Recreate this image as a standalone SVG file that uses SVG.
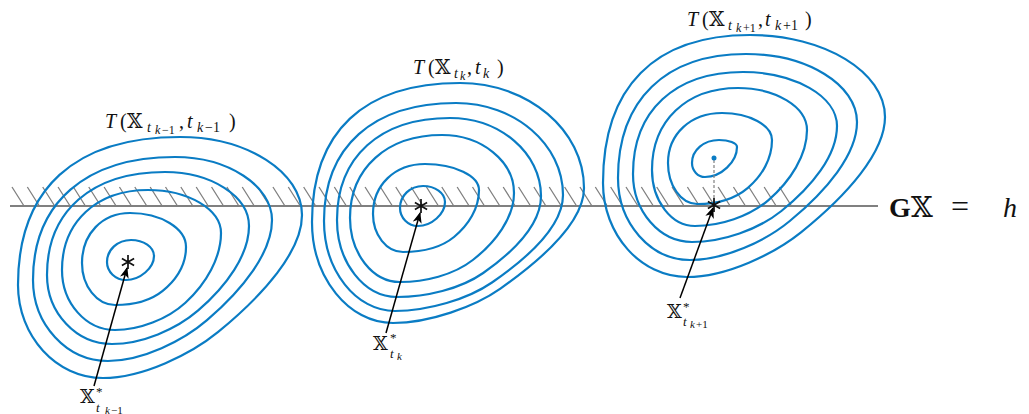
<svg xmlns="http://www.w3.org/2000/svg" width="1029" height="414" viewBox="0 0 1029 414">
<style>
.c{fill:none;stroke:#0a7cc4;stroke-width:2.2}
.m{font-family:'Liberation Serif','DejaVu Serif','DejaVu Sans',serif;fill:#111}
.bb{font-family:'DejaVu Serif','DejaVu Sans',serif}
.i{font-style:italic}
.st{fill:none;stroke:#111;stroke-width:1.7}
.ar{fill:none;stroke:#000;stroke-width:1.5}
</style>
<defs>
<marker id="ah" markerWidth="12" markerHeight="10" refX="10" refY="4.5" orient="auto" markerUnits="userSpaceOnUse"><path d="M0,0 L11,4.5 L0,9 L3,4.5 z" fill="#000"/></marker>
</defs>
<rect width="1029" height="414" fill="#fff"/>
<g id="constraint">
<path d="M12 187l12 19m3.35-19l12 19m3.35-19l12 19m3.35-19l12 19m3.35-19l12 19m3.35-19l12 19m3.35-19l12 19m3.35-19l12 19m3.35-19l12 19m3.35-19l12 19m3.35-19l12 19m3.35-19l12 19m3.35-19l12 19m3.35-19l12 19m3.35-19l12 19m3.35-19l12 19m3.35-19l12 19m3.35-19l12 19m3.35-19l12 19m3.35-19l12 19m3.35-19l12 19m3.35-19l12 19m3.35-19l12 19m3.35-19l12 19m3.35-19l12 19m3.35-19l12 19m3.35-19l12 19m3.35-19l12 19m3.35-19l12 19m3.35-19l12 19m3.35-19l12 19m3.35-19l12 19m3.35-19l12 19m3.35-19l12 19m3.35-19l12 19m3.35-19l12 19m3.35-19l12 19m3.35-19l12 19m3.35-19l12 19m3.35-19l12 19m3.35-19l12 19m3.35-19l12 19m3.35-19l12 19m3.35-19l12 19m3.35-19l12 19m3.35-19l12 19m3.35-19l12 19m3.35-19l12 19m3.35-19l12 19m3.35-19l12 19m3.35-19l12 19" fill="none" stroke="#808080" stroke-width="1.3"/>
<line x1="10" y1="206" x2="878" y2="206" stroke="#808080" stroke-width="2"/>
<text class="m" y="217" font-size="28"><tspan x="889" font-weight="bold">G</tspan><tspan x="911" class="bb">𝕏</tspan><tspan x="951" font-size="32">=</tspan><tspan x="1003" class="i">h</tspan></text>
</g>
<g id="cluster1">
<path class="c" d="M107 262C107 249.7 117.6 240 131 240C143.7 240 154 247.2 154 256C154 268 140 280 126 280C115.5 280 107 271.9 107 262Z"/>
<path class="c" d="M82 263C82 234 102.2 213 130 213C160.8 213 186 228.3 186 247C186 264.4 176.2 279.9 162.7 290.9C149.9 301.3 131.5 305 115 305C96.9 305 82 286.1 82 263Z"/>
<path class="c" d="M62 270C62 222 96.4 190 148 190C188.2 190 221 209.4 221 233C221 257.4 206.6 283.3 185.4 302.7C167.4 319.2 139.4 330 115 330C85.9 330 62 303 62 270Z"/>
<path class="c" d="M47 275C47 211.1 91.8 172 165 172C211.2 172 249 196.3 249 226C249 254.9 226.7 285.9 197.9 310.7C176 329.6 141.8 344 112 344C76.3 344 47 313 47 275Z"/>
<path class="c" d="M33 280C33 203.1 85.5 157 175 157C228.4 157 272 185.9 272 220C272 252.4 243.1 289.2 207 320.2C183.2 340.7 142.6 361 108 361C66.8 361 33 324.6 33 280Z"/>
<path class="c" d="M18 285C18 188.8 74.7 137 180 137C247.1 137 302 172.1 302 215C302 251 264 294.4 218.2 331.9C191.3 353.9 142.9 378 103 378C56.3 378 18 336.2 18 285Z"/>
<path class="st" d="M128 255v14M121.9 258.5l12.2 7M134.1 258.5l-12.2 7"/>
<text class="m" y="128" font-size="20"><tspan x="105" class="i">T</tspan><tspan x="120">(</tspan><tspan x="127" class="bb">𝕏</tspan><tspan x="147" y="132" font-size="14" class="i">t</tspan><tspan x="155" y="134" font-size="12" class="i">k</tspan><tspan x="162" font-size="12">−1</tspan><tspan x="179" y="128">,</tspan><tspan x="187" class="i">t</tspan><tspan x="197" y="132" font-size="14" class="i">k</tspan><tspan x="205" font-size="14">−1</tspan><tspan x="229" y="128">)</tspan></text>
<text class="m" y="403" font-size="19"><tspan x="80" class="bb">𝕏</tspan><tspan x="96" y="396" font-size="13">*</tspan><tspan x="96" y="412" font-size="13" class="i">t</tspan><tspan x="105" y="414" font-size="11" class="i">k</tspan><tspan x="111" font-size="11">−1</tspan></text>
</g>
<g id="cluster2">
<path class="c" d="M400 208C400 195.7 410.1 186 423 186C435.1 186 445 193.2 445 202C445 214 431.5 226 418 226C408.1 226 400 217.9 400 208Z"/>
<path class="c" d="M373 214C373 185 394.8 164 425 164C454.7 164 479 175.7 479 190C479 208.6 468.4 225.2 454 237C440.3 248.2 420.7 252 403 252C386.5 252 373 234.9 373 214Z"/>
<path class="c" d="M350 218C350 168.2 386.8 135 442 135C481.6 135 514 161.1 514 193C514 217.6 495.6 242.2 472.8 260C453.4 275.2 424.6 282 400 282C372.5 282 350 253.2 350 218Z"/>
<path class="c" d="M337 220C337 156.8 380 118 450 118C500 118 541 153.1 541 196C541 224.1 513.4 251.8 483.2 273C460.2 289.1 426 297 397 297C364 297 337 262.4 337 220Z"/>
<path class="c" d="M324 221C324 146.7 372.8 103 456 103C514.9 103 563 144.4 563 195C563 225.6 529 257 492 282.5C467.6 299.3 427.7 311 395 311C356 311 324 270.5 324 221Z"/>
<path class="c" d="M312 222C312 131.7 363.8 83 460 83C528.2 83 584 130.3 584 188C584 220.7 544.4 257.6 500.4 288.6C474.6 306.8 429.3 323 393 323C348.5 323 312 277.6 312 222Z"/>
<path class="st" d="M421 199v14M414.9 202.5l12.2 7M427.1 202.5l-12.2 7"/>
<text class="m" y="74" font-size="20"><tspan x="413" class="i">T</tspan><tspan x="428">(</tspan><tspan x="435" class="bb">𝕏</tspan><tspan x="454" y="78" font-size="14" class="i">t</tspan><tspan x="460" y="80" font-size="12" class="i">k</tspan><tspan x="467" y="74">,</tspan><tspan x="475" class="i">t</tspan><tspan x="483" y="78" font-size="14" class="i">k</tspan><tspan x="497" y="74">)</tspan></text>
<text class="m" y="350" font-size="19"><tspan x="373" class="bb">𝕏</tspan><tspan x="390" y="342" font-size="13">*</tspan><tspan x="390" y="358" font-size="13" class="i">t</tspan><tspan x="397" y="360" font-size="11" class="i">k</tspan></text>
</g>
<g id="cluster3">
<path class="c" d="M692 163C692 150.1 703.9 140 719 140C728.9 140 737 143.2 737 147C737 162 721 177 705 177C697.9 177 692 170.7 692 163Z"/>
<path class="c" d="M668 163C668 134 690.7 113 722 113C749.5 113 772 125.2 772 140C772 158.7 762.1 175.7 747.9 187.8C734.4 199.3 714.7 204 697 204C681 204 668 185.6 668 163Z"/>
<path class="c" d="M652 170C652 120.8 686.4 88 738 88C776 88 807 106.9 807 130C807 155.1 790.6 181.1 768.2 200.3C749.1 216.6 720.1 226 695 226C671.4 226 652 200.8 652 170Z"/>
<path class="c" d="M633 174C633 110.8 674.8 72 743 72C794.7 72 837 96.3 837 126C837 155.7 811.9 186.6 781.4 211C758.2 229.6 722.6 242 692 242C659.6 242 633 211.4 633 174Z"/>
<path class="c" d="M618 178C618 99.9 665.4 54 746 54C807.1 54 857 84.6 857 122C857 154.5 826.6 190.6 789.8 221C765.6 241 724.7 260 690 260C650.4 260 618 223.1 618 178Z"/>
<path class="c" d="M603 183C603 86.8 654.5 35 750 35C824.3 35 885 71.9 885 117C885 152.6 846.9 195.3 801.3 232.1C774.5 253.7 726.5 277 687 277C640.8 277 603 234.7 603 183Z"/>
<line x1="714" y1="160" x2="714" y2="203" stroke="#808080" stroke-width="1.2" stroke-dasharray="3 2"/>
<circle cx="714" cy="158" r="2.5" fill="#0a7cc4"/>
<path class="st" d="M714 198v14M707.9 201.5l12.2 7M720.1 201.5l-12.2 7"/>
<text class="m" y="26" font-size="20"><tspan x="687" class="i">T</tspan><tspan x="702">(</tspan><tspan x="709" class="bb">𝕏</tspan><tspan x="728" y="30" font-size="14" class="i">t</tspan><tspan x="736" y="32" font-size="12" class="i">k</tspan><tspan x="743" font-size="12">+1</tspan><tspan x="758" y="26">,</tspan><tspan x="765" class="i">t</tspan><tspan x="775" y="30" font-size="14" class="i">k</tspan><tspan x="783" font-size="14">+1</tspan><tspan x="805" y="26">)</tspan></text>
<text class="m" y="318" font-size="19"><tspan x="667" class="bb">𝕏</tspan><tspan x="683" y="311" font-size="13">*</tspan><tspan x="683" y="326" font-size="13" class="i">t</tspan><tspan x="690" y="328" font-size="11" class="i">k</tspan><tspan x="696" font-size="11">+1</tspan></text>
</g>
<g id="connectors">
<path class="ar" d="M94 386L127 268" marker-end="url(#ah)"/>
<path class="ar" d="M386 333L420 213" marker-end="url(#ah)"/>
<path class="ar" d="M680 298L713 208" marker-end="url(#ah)"/>
</g>
</svg>
